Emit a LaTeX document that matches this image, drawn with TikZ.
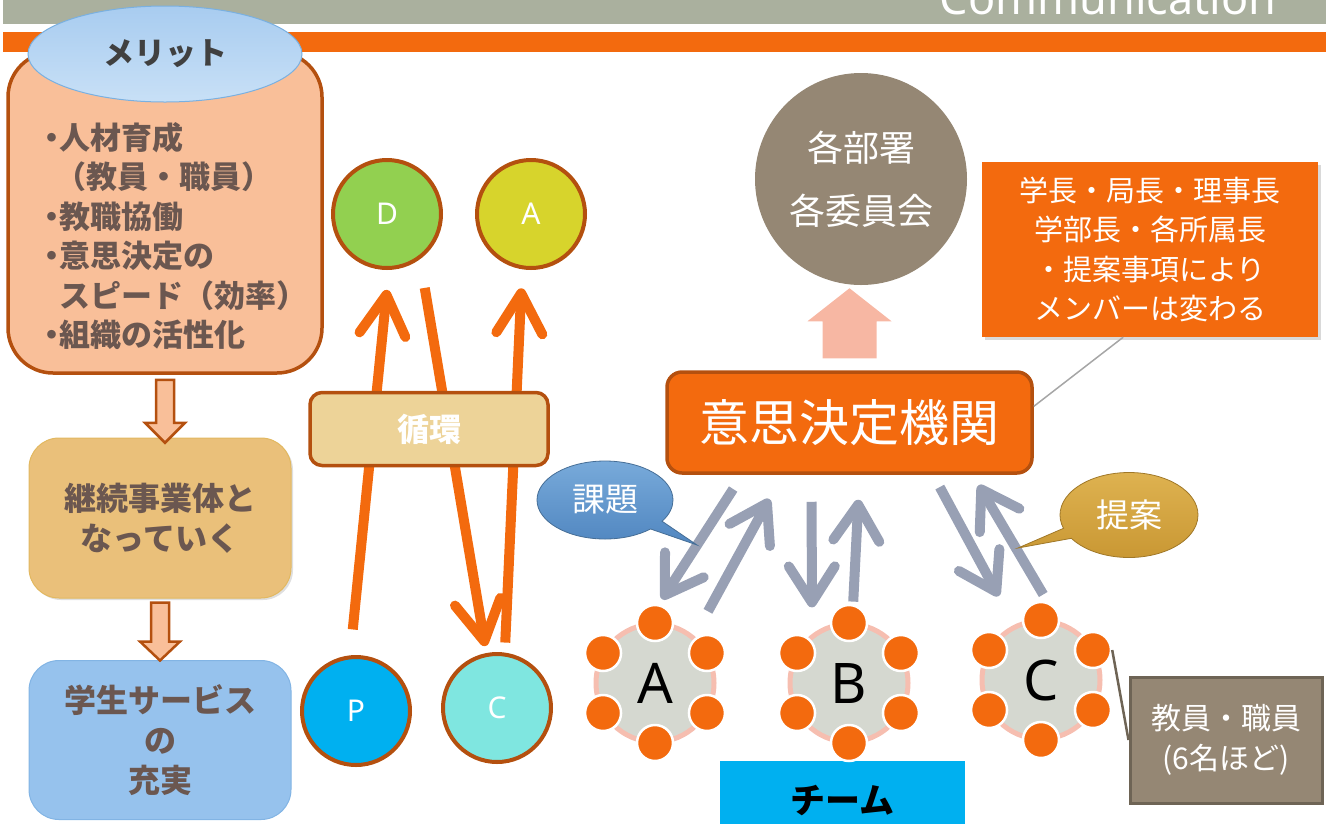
\documentclass[tikz,border=0pt]{standalone}
\usepackage{fontspec}
\setmainfont{Noto Sans CJK JP}
\newfontfamily\latinsans{Noto Sans}
\usetikzlibrary{arrows.meta,shapes.geometric,shapes.callouts,shadows,calc}
\definecolor{barorange}{RGB}{243,106,14}
\definecolor{bargray}{RGB}{170,176,158}
\definecolor{rust}{RGB}{180,80,15}
\definecolor{peach}{RGB}{249,191,153}
\definecolor{browntext}{RGB}{107,87,80}
\definecolor{capedge}{RGB}{122,176,224}
\definecolor{capblue}{RGB}{168,204,240}
\definecolor{capblueL}{RGB}{200,224,246}
\definecolor{contedge}{RGB}{226,184,96}
\definecolor{contdark}{RGB}{234,192,122}
\definecolor{contlight}{RGB}{247,226,193}
\definecolor{studedge}{RGB}{130,180,228}
\definecolor{studdark}{RGB}{150,194,237}
\definecolor{studlight}{RGB}{202,226,247}
\definecolor{loopfill}{RGB}{237,211,152}
\definecolor{pgreen}{RGB}{146,208,80}
\definecolor{pyellow}{RGB}{215,212,44}
\definecolor{pblue}{RGB}{0,176,240}
\definecolor{pcyan}{RGB}{127,230,224}
\definecolor{taupe}{RGB}{149,135,116}
\definecolor{taupedark}{RGB}{110,100,85}
\definecolor{pinkarrow}{RGB}{247,183,163}
\definecolor{arrowgray}{RGB}{152,160,180}
\definecolor{diskgray}{RGB}{213,216,208}
\definecolor{ringpink}{RGB}{246,190,176}
\definecolor{kadaiedge}{RGB}{70,110,150}
\definecolor{kadaiL}{RGB}{120,170,218}
\definecolor{kadaiD}{RGB}{80,134,192}
\definecolor{teianedge}{RGB}{160,120,40}
\definecolor{teianL}{RGB}{222,178,80}
\definecolor{teianD}{RGB}{200,150,50}
\newcommand{\meritdot}{\makebox[16pt]{・}}

\begin{document}
\begin{tikzpicture}[x=1pt,y=-1pt,
  meritbox/.style={draw=rust,line width=3.5,fill=peach,rounded corners=45,minimum width=314,minimum height=321},
  meritcap/.style={ellipse,draw=capedge,line width=1,top color=capblue,bottom color=capblueL,minimum width=274,minimum height=96,text=black!75,font=\bfseries\fontsize{31}{31}\selectfont},
  blockdown/.style={draw=rust,line width=2.5,fill=peach},
  contbox/.style={rounded corners=30,draw=contedge,line width=1,top color=contdark,middle color=contlight,bottom color=contdark,shading angle=35,minimum width=262,minimum height=160,align=center,text=browntext,font=\bfseries\fontsize{32}{40}\selectfont,drop shadow={opacity=.25,shadow xshift=2pt,shadow yshift=-2pt}},
  studbox/.style={rounded corners=30,draw=studedge,line width=1,top color=studdark,middle color=studlight,bottom color=studdark,shading angle=35,minimum width=262,minimum height=159,align=center,text=browntext,font=\bfseries\fontsize{32}{40}\selectfont},
  pdca/.style={circle,draw=rust,line width=4,minimum size=108,text=white,font=\latinsans\fontsize{30}{30}\selectfont},
  cyclearrow/.style={draw=barorange,line width=10,-{Straight Barb[length=40pt,width=46pt,round]}},
  loopbox/.style={draw=rust,line width=3.5,fill=loopfill,rounded corners=12,minimum width=238,minimum height=73,text=white,font=\bfseries\fontsize{32}{32}\selectfont},
  dept/.style={circle,fill=taupe,minimum size=212,text=white,align=center,font=\fontsize{36}{63}\selectfont},
  memberbox/.style={fill=barorange,minimum width=336,minimum height=175,text=white,align=center,font=\fontsize{29}{39.5}\selectfont,drop shadow={opacity=.3,shadow xshift=3pt,shadow yshift=-3pt}},
  decisionbox/.style={draw=rust,line width=3.5,fill=barorange,rounded corners=15,minimum width=365,minimum height=101,text=white,font=\fontsize{50}{50}\selectfont},
  memline/.style={draw=gray!70,line width=1.5},
  grayarrow/.style={draw=arrowgray,line width=10,-{Straight Barb[length=36pt,width=46pt,round]}},
  kadaicall/.style={ellipse callout,draw=kadaiedge,line width=.8,top color=kadaiL,bottom color=kadaiD,minimum width=136,minimum height=78,text=white,font=\fontsize{33}{33}\selectfont},
  teiancall/.style={ellipse callout,draw=teianedge,line width=.8,top color=teianL,bottom color=teianD,minimum width=138,minimum height=85,text=white,font=\fontsize{33}{33}\selectfont},
  teamlabel/.style={fill=pblue,minimum width=245,minimum height=80,font=\bfseries\fontsize{35}{35}\selectfont},
  teamdisk/.style={circle,fill=diskgray,draw=ringpink,line width=5,minimum size=118,inner sep=0,font=\latinsans\fontsize{56}{56}\selectfont},
  orb/.style={circle,fill=barorange,draw=white,line width=2.5,minimum size=36,inner sep=0},
  staffbox/.style={fill=taupe,draw=taupedark,line width=3,minimum width=192,minimum height=126,text=white,align=center,font=\fontsize{30}{40}\selectfont},
  staffline/.style={draw=taupedark,line width=2.5}]
\useasboundingbox (0,0) rectangle (1326,823);
\clip (0,0) rectangle (1326,823);

\fill[bargray] (3,0) rectangle (1326,24);
\node[anchor=base east,text=white,font=\latinsans\fontsize{45}{45}\selectfont] (title) at (1280,14) {Communication};
\fill[barorange] (3,32) rectangle (1326,52);

\node[meritbox] (merit) at (165,212.5) {};
\node[meritcap] (meritcap) at (165,54) {メリット};
\node[anchor=west,align=left,text=browntext,font=\bfseries\fontsize{31}{39.5}\selectfont] (merittext) at (40,236)
  {\meritdot 人材育成\\\hspace*{12pt}（教員・職員）\\\meritdot 教職協働\\\meritdot 意思決定の\\\hspace*{16pt}スピード（効率）\\\meritdot 組織の活性化};

\node[contbox] (cont) at (160,518) {継続事業体と\\なっていく};
\node[studbox] (stud) at (160,740) {学生サービス\\の\\充実};
\draw[blockdown] ([yshift=-5pt]merit.south) ++(-9,0) -- ++(18,0) -- ++(0,43) -- ++(11,0) -- ++(-20,20) -- ++(-20,-20) -- ++(11,0) -- cycle;
\draw[blockdown] ([yshift=-4pt]cont.south) ++(-9,0) -- ++(18,0) -- ++(0,39) -- ++(11,0) -- ++(-20,19) -- ++(-20,-19) -- ++(11,0) -- cycle;

\node[pdca,fill=pgreen] (D) at (387,214) {D};
\node[pdca,fill=pyellow] (A) at (531,214) {A};
\node[pdca,fill=pblue] (P) at (356,711) {P};
\node[pdca,fill=pcyan] (C) at (497,708) {C};
\draw[cyclearrow,shorten <=26pt,shorten >=20pt] (P.96) -- (D.-88);
\draw[cyclearrow,shorten <=29pt,shorten >=7pt] (D.-54) -- (C.101);
\draw[cyclearrow,shorten <=10pt,shorten >=19pt] (C.82) -- (A.-99);
\node[loopbox] (loopbox) at (429,429) {循環};

\node[dept] (dept) at (861,179) {各部署\\各委員会};
\node[decisionbox] (decision) at (849.5,422.5) {意思決定機関};
\fill[pinkarrow] ([yshift=12pt]decision.north) ++(-27,0) -- ++(0,-37) -- ++(-15,0) -- ++(42,-33) -- ++(42,33) -- ++(-15,0) -- ++(0,37) -- cycle;
\node[memberbox] (members) at (1150,249.5) {学長・局長・理事長\\学部長・各所属長\\・提案事項により\\メンバーは変わる};
\draw[memline] (members.253) -- (decision.5);

\node[teamlabel] (teamlabel) at (842.5,801) {チーム};
\foreach \t/\x/\y in {A/655/683,B/849/683,C/1041/680}{
  \node[teamdisk] (team\t) at (\x,\y) {\t};
  \foreach \i in {1,...,6}
    \node[orb] (orb\t\i) at ($(team\t)+({30+60*\i}:60)$) {};
}

\draw[grayarrow,shorten <=17pt,shorten >=27pt] (decision.206.2) -- (teamA.97.5);
\draw[grayarrow,shorten <=28pt,shorten >=27.6pt] (teamA.50.3) -- (decision.218.8);
\draw[grayarrow,shorten <=27pt,shorten >=26.5pt] (decision.234.3) -- (teamB.127.5);
\draw[grayarrow,shorten <=20pt,shorten >=25pt] (teamB.87.2) -- (decision.-79.1);
\draw[grayarrow,shorten <=14pt,shorten >=32.5pt] (decision.-32.7) -- (teamC.116.3);
\draw[grayarrow,shorten <=31pt,shorten >=12pt] (teamC.73.6) -- (decision.-23.3);

\node[kadaicall,callout absolute pointer={(697,545)}] (kadai) at (605,500) {課題};
\node[teiancall,callout absolute pointer={(1018,548)}] (teian) at (1129,515) {提案};

\node[staffbox] (staff) at (1226,740) {教員・職員\\(6名ほど)};
\draw[staffline] (orbC5.east) -- (staff.west);
\end{tikzpicture}
\end{document}
